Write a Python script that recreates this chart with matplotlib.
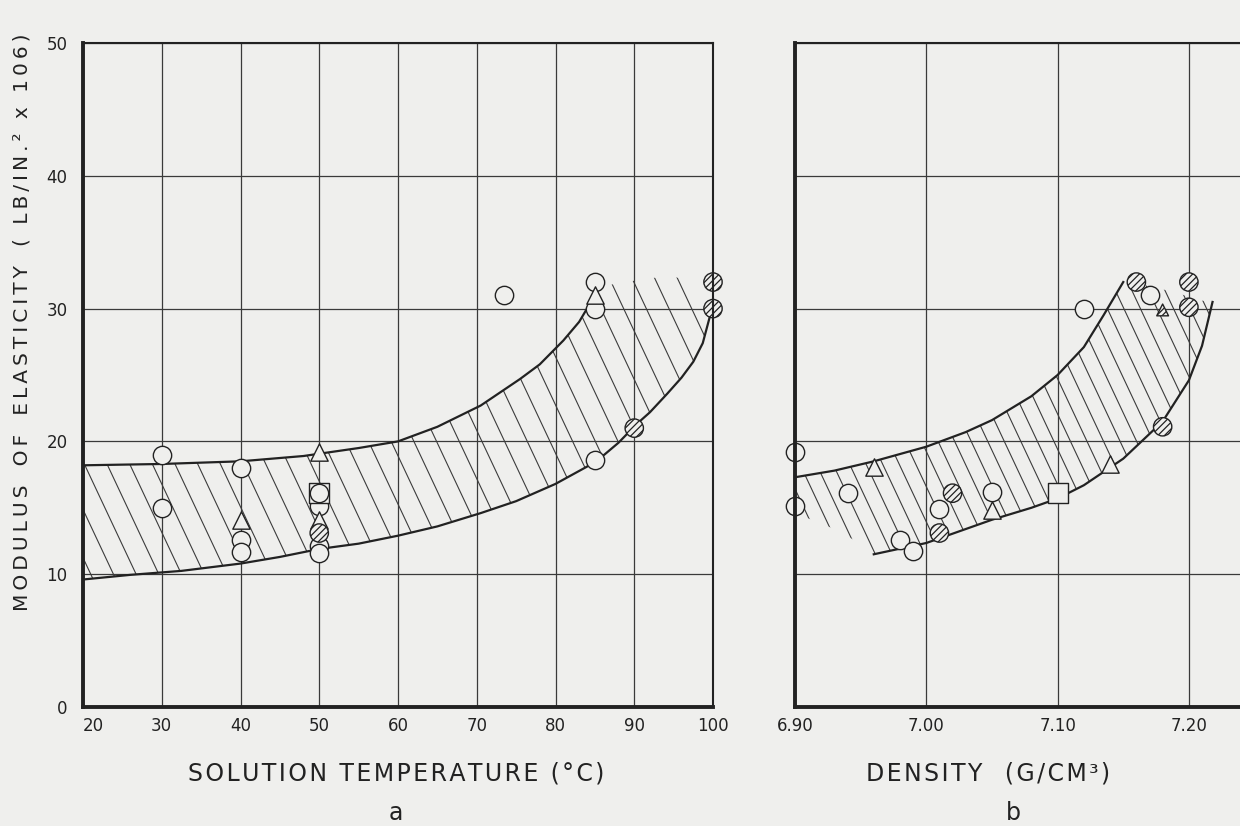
import numpy as np
import matplotlib
matplotlib.use("Agg")
import matplotlib.pyplot as plt
from matplotlib.patches import Polygon
from matplotlib.collections import LineCollection

# ---- data ----
# (a) modulus vs solution temperature (deg C)
a_open_t = [30, 30, 40, 40, 40, 50, 50, 50, 50, 73.5, 85, 85, 85]
a_open_e = [19.0, 15.0, 18.0, 12.6, 11.7, 16.1, 15.1, 12.1, 11.6, 31.0, 32.0, 30.0, 18.6]
a_tri_t = [40, 50, 50, 85]
a_tri_e = [14.1, 19.2, 14.1, 31.0]
a_sq_t = [50]
a_sq_e = [16.1]
a_hat_t = [50, 90, 100, 100]
a_hat_e = [13.1, 21.0, 32.0, 30.0]

a_upper_t = [20, 30, 40, 48, 55, 60, 65, 70.5, 75.5, 78, 81, 83, 84.3, 85]
a_upper_e = [18.2, 18.3, 18.5, 18.9, 19.5, 20.0, 21.1, 22.7, 24.7, 25.8, 27.6, 29.0, 30.3, 31.3]
a_lower_t = [20, 26, 32.5, 40, 45, 50, 55, 60, 65, 70.5, 75, 80, 84, 86,
             88, 90.3, 92, 94.2, 96, 97.5, 98.7, 99.6]
a_lower_e = [9.6, 9.95, 10.25, 10.8, 11.3, 11.9, 12.3, 12.9, 13.6, 14.6, 15.5, 16.8, 18.1, 18.9,
             19.9, 21.3, 22.2, 23.6, 24.8, 26.0, 27.4, 29.4]
# top edge of the hatched zone beyond the end of the upper curve
a_cap_t = [87, 92, 95, 97, 98.5]
a_cap_e = [31.8, 32.3, 32.4, 32.1, 30.4]

# (b) modulus vs density (g/cm3)
b_open_d = [6.90, 6.90, 6.94, 6.98, 6.99, 7.01, 7.05, 7.12, 7.17]
b_open_e = [19.2, 15.1, 16.1, 12.6, 11.75, 14.9, 16.2, 30.0, 31.0]
b_tri_d = [6.96, 7.05, 7.14]
b_tri_e = [18.1, 14.8, 18.3]
b_sq_d = [7.10]
b_sq_e = [16.1]
b_hat_d = [7.01, 7.02, 7.16, 7.18, 7.20, 7.20]
b_hat_e = [13.1, 16.1, 32.0, 21.1, 32.0, 30.1]
b_htri_d = [7.18]
b_htri_e = [29.9]

b_upper_d = [6.90, 6.93, 6.96, 7.00, 7.03, 7.05, 7.08, 7.10, 7.12, 7.135, 7.15]
b_upper_e = [17.3, 17.8, 18.5, 19.6, 20.7, 21.6, 23.4, 25.0, 27.1, 29.5, 32.0]
b_lower_d = [6.96, 7.00, 7.03, 7.05, 7.08, 7.10, 7.12, 7.15, 7.18, 7.20, 7.21, 7.218]
b_lower_e = [11.5, 12.35, 13.4, 14.1, 15.0, 15.7, 16.7, 18.7, 21.5, 24.6, 27.2, 30.5]
b_cap_d = [7.17, 7.19, 7.21]
b_cap_e = [31.7, 31.2, 30.6]
b_foot_d = [6.90, 6.91, 6.93, 6.95]
b_foot_e = [14.8, 14.2, 13.4, 12.3]

a_xticks = [20, 30, 40, 50, 60, 70, 80, 90, 100]
b_xticks = [6.90, 7.00, 7.10, 7.20]
b_xlabels = ["6.90", "7.00", "7.10", "7.20"]
yticks = [0, 10, 20, 30, 40, 50]

paper = "#efefed"
ink = "#222222"

plt.rcParams["font.family"] = ["DejaVu Sans"]
plt.rcParams["hatch.linewidth"] = 0.9

fig = plt.figure(figsize=(12.4, 8.26), dpi=100, facecolor=paper)
W, H = 1240, 826
ax1 = fig.add_axes([83 / W, (H - 707) / H, 630 / W, 664 / H])
ax2 = fig.add_axes([795 / W, (H - 707) / H, 0.35 * 1313 / W, 664 / H])


def spaced(text, gap="\u2009"):
    # draftsman lettering: open up the letter spacing
    return gap.join(text)


def hatch_band(ax, xs, ys, spacing=0.036, lean=0.47):
    poly = Polygon(np.column_stack([xs, ys]), closed=True, fill=False,
                   edgecolor="none")
    ax.add_patch(poly)
    bb = ax.get_position()
    aspect = (bb.height * H) / (bb.width * W)
    dx = lean * aspect
    segs = [[(u, 1), (u + dx, 0)] for u in np.arange(-1.5, 1.2, spacing)]
    lc = LineCollection(segs, colors="#3c3c3c", linewidths=0.8,
                        transform=ax.transAxes, zorder=1.5)
    lc.set_clip_path(poly)
    ax.add_collection(lc)


def markers(ax, x, y, marker, size, hatch=None):
    ax.scatter(x, y, s=size ** 2, marker=marker, facecolors=paper,
               edgecolors=ink, linewidths=1.0, hatch=hatch, zorder=4,
               clip_on=False)


for ax in (ax1, ax2):
    ax.set_facecolor(paper)
    ax.set_ylim(0, 50)
    ax.set_yticks(yticks)
    ax.grid(True, color="#3a3a3a", linewidth=0.9)
    ax.set_axisbelow(True)
    ax.tick_params(length=0, labelsize=12, colors=ink)
    for side in ("left", "bottom"):
        ax.spines[side].set_linewidth(2.8)
    for side in ("top", "right"):
        ax.spines[side].set_linewidth(1.5)
    for sp in ax.spines.values():
        sp.set_color(ink)
        sp.set_zorder(5)

# ---- panel a ----
ax1.set_xlim(20, 100)
ax1.set_xticks(a_xticks)
ax1.tick_params(axis="x", pad=7)
ax1.tick_params(axis="y", pad=11)
ax1.get_xticklabels()[0].set_horizontalalignment("left")

band_x = a_upper_t + a_cap_t + a_lower_t[::-1]
band_y = a_upper_e + a_cap_e + a_lower_e[::-1]
hatch_band(ax1, band_x, band_y)
ax1.plot(a_upper_t, a_upper_e, color=ink, lw=1.6, zorder=3)
ax1.plot(a_lower_t, a_lower_e, color=ink, lw=1.6, zorder=3)

markers(ax1, a_open_t, a_open_e, "o", 13.2)
markers(ax1, a_tri_t, a_tri_e, "^", 12.5)
markers(ax1, a_sq_t, a_sq_e, "s", 15.0)
markers(ax1, [a_sq_t[0]], [a_sq_e[0]], "o", 13.2)
markers(ax1, a_hat_t, a_hat_e, "o", 13.2, hatch="/////")

# ---- panel b ----
ax2.set_xlim(6.90, 7.25)
ax2.set_xticks(b_xticks)
ax2.set_xticklabels(b_xlabels)
ax2.tick_params(axis="x", pad=7)
ax2.tick_params(axis="y", labelleft=False)

band_x = b_upper_d + b_cap_d + b_lower_d[::-1] + b_foot_d[::-1]
band_y = b_upper_e + b_cap_e + b_lower_e[::-1] + b_foot_e[::-1]
hatch_band(ax2, band_x, band_y)
ax2.plot(b_upper_d, b_upper_e, color=ink, lw=1.6, zorder=3)
ax2.plot(b_lower_d, b_lower_e, color=ink, lw=1.6, zorder=3)

markers(ax2, b_open_d, b_open_e, "o", 13.2)
markers(ax2, b_tri_d, b_tri_e, "^", 12.5)
markers(ax2, b_sq_d, b_sq_e, "s", 15.0)
markers(ax2, b_hat_d, b_hat_e, "o", 13.2, hatch="/////")
markers(ax2, b_htri_d, b_htri_e, "^", 8.5, hatch="//////")

# ---- labels ----
ylab = "   ".join([spaced("MODULUS"), spaced("OF"), spaced("ELASTICITY"),
                   spaced("( LB/IN.² x 106)")])
fig.text(22 / W, (H - 322) / H, ylab, rotation=90, ha="center", va="center",
         fontsize=14.5, color=ink)
fig.text(396 / W, (H - 773) / H, spaced("SOLUTION TEMPERATURE (°C)", "\u200a"),
         ha="center", va="center", fontsize=17, color=ink)
fig.text(988 / W, (H - 773) / H, spaced("DENSITY", "\u200a") + "   " +
         spaced("(G/CM³)", "\u200a"),
         ha="center", va="center", fontsize=17, color=ink)
fig.text(396 / W, (H - 813) / H, "a", ha="center", va="center",
         fontsize=17, color=ink)
fig.text(1013 / W, (H - 813) / H, "b", ha="center", va="center",
         fontsize=17, color=ink)

fig.savefig("out.png", dpi=100, facecolor=paper)
